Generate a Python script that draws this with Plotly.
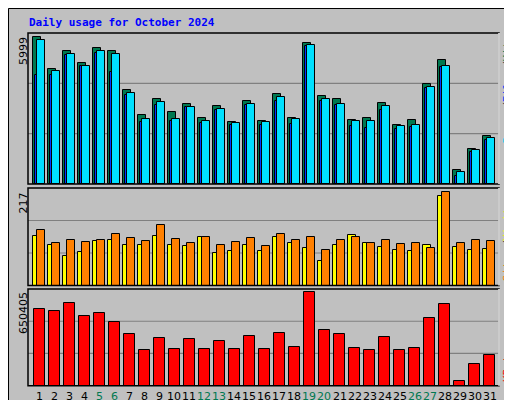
import plotly.graph_objects as go

days = list(range(1, 32))
hits = [5999, 4690, 5428, 4936, 5549, 5428, 3832, 2809, 3476, 2932, 3259, 2687, 3177, 2524, 3381, 2564,
        3668, 2687, 5753, 3586, 3463, 2605, 2687, 3300, 2400, 2605, 4077, 5057, 560, 1418, 1950]
files = [5870, 4630, 5310, 4820, 5430, 5310, 3710, 2640, 3350, 2640, 3140, 2560, 3050, 2480, 3260, 2520,
         3540, 2640, 5700, 3460, 3260, 2560, 2560, 3180, 2360, 2400, 3950, 4810, 500, 1390, 1900]
pages = [4470, 4470, 5290, 4810, 5360, 4580, 3650, 2520, 3220, 2560, 3150, 2490, 3010, 2430, 3220, 2400,
         3380, 2460, 5630, 3410, 3220, 2360, 2290, 3030, 2260, 2330, 3930, 4770, 310, 1300, 1790]
visits = [115, 94, 69, 77, 103, 106, 94, 94, 115, 94, 92, 113, 75, 80, 94, 80,
          113, 99, 87, 58, 94, 118, 99, 89, 82, 80, 94, 208, 89, 82, 84]
sites = [129, 99, 106, 101, 106, 120, 110, 103, 141, 108, 99, 113, 94, 101, 110, 92,
         120, 106, 113, 82, 106, 113, 99, 106, 96, 99, 87, 217, 99, 106, 103]
kbytes = [536000, 521800, 578900, 486000, 507500, 443100, 357400, 250200, 328800, 257300, 321600, 257300,
          314500, 257300, 343100, 257300, 364500, 271600, 650405, 386000, 357400, 264500, 250200, 335900,
          250200, 264500, 471700, 571800, 35700, 150100, 214400]
weekend = [5, 6, 12, 13, 19, 20, 26, 27]

W, H = 512, 400
def px(x):
    return x / W
def py(y):
    return 1 - y / H

line = dict(color="black", width=1)
fig = go.Figure()
fig.add_bar(x=days, y=hits, offset=-0.42, width=0.53, marker=dict(color="#007850", line=line), xaxis="x", yaxis="y")
fig.add_bar(x=days, y=pages, offset=-0.29, width=0.53, marker=dict(color="#0038FF", line=line), xaxis="x", yaxis="y")
fig.add_bar(x=days, y=files, offset=-0.15, width=0.5, marker=dict(color="#00E0FF", line=line), xaxis="x", yaxis="y")
fig.add_bar(x=days, y=visits, offset=-0.42, width=0.53, marker=dict(color="#FFFF00", line=line), xaxis="x2", yaxis="y2")
fig.add_bar(x=days, y=sites, offset=-0.15, width=0.5, marker=dict(color="#FF8000", line=line), xaxis="x2", yaxis="y2")
fig.add_bar(x=days, y=kbytes, offset=-0.35, width=0.71, marker=dict(color="#FF0000", line=line), xaxis="x3", yaxis="y3")

xr = [0.247, 31.626]
xd = [px(20), px(491)]
common_y = dict(showticklabels=False, showgrid=False, zeroline=False, ticks="")
common_x = dict(range=xr, domain=xd, showgrid=False, zeroline=False, showticklabels=False)
fig.update_layout(
    width=W, height=H, margin=dict(l=0, r=0, t=0, b=0),
    paper_bgcolor="#C0C0C0", plot_bgcolor="#C0C0C0",
    showlegend=False, barmode="overlay", bargap=0,
    font=dict(family="DejaVu Sans", size=11, color="black"),
    xaxis=dict(common_x, anchor="y"),
    xaxis2=dict(common_x, anchor="y2"),
    xaxis3=dict(common_x, anchor="y3"),
    yaxis=dict(common_y, domain=[py(176), py(25)], range=[0, 6175]),
    yaxis2=dict(common_y, domain=[py(277.5), py(180)], range=[0, 227]),
    yaxis3=dict(common_y, domain=[py(377.7), py(281)], range=[0, 673000]),
)

shapes = []
shapes.append(dict(type="rect", xref="paper", yref="paper", x0=px(4), x1=1, y0=0, y1=py(4),
                   fillcolor="#808080", line=dict(width=0), layer="below"))
shapes.append(dict(type="rect", xref="paper", yref="paper", x0=px(0.5), x1=px(507), y0=py(395), y1=py(0.5),
                   fillcolor="#C0C0C0", line=dict(color="black", width=1), layer="below"))
for ax in ["y", "y2", "y3"]:
    xa = "x" if ax == "y" else "x" + ax[1]
    for f in [1 / 3, 2 / 3]:
        shapes.append(dict(type="line", xref=f"{xa} domain", yref=f"{ax} domain", x0=0, x1=1, y0=f, y1=f,
                           line=dict(color="#808080", width=1.2), layer="below"))
    shapes.append(dict(type="rect", xref=f"{xa} domain", yref=f"{ax} domain", x0=0, x1=1, y0=0, y1=1,
                       line=dict(color="black", width=1.5), layer="above"))
    shapes.append(dict(type="line", xref=f"{xa} domain", yref=f"{ax} domain", x0=1, x1=1, y0=0, y1=1,
                       line=dict(color="white", width=1.5), layer="above"))
fig.update_layout(shapes=shapes)

mono = "DejaVu Sans Mono"
ann = [
    dict(x=px(19), y=py(15), text="<b>Daily usage for October 2024</b>", xanchor="left", yanchor="middle",
         font=dict(family=mono, size=11, color="#0000FF")),
    dict(x=px(15), y=py(27), text="5999", textangle=-90, xanchor="center", yanchor="top", font=dict(size=11)),
    dict(x=px(15), y=py(183), text="217", textangle=-90, xanchor="center", yanchor="top", font=dict(size=11)),
    dict(x=px(15), y=py(282), text="650405", textangle=-90, xanchor="center", yanchor="top", font=dict(size=11)),
]
# right-hand series labels, each part as its own rotated text, listed bottom to top
right = [
    (138, "Pages", "#00C8E8"), (103, "/", "#404040"), (97, "Files", "#0038FF"),
    (62, "/", "#404040"), (56, "Hits", "#007850"),
    (276, "Sites", "#FF8000"), (241, "/", "#404040"), (235, "Visits", "#FFFF00"),
    (376, "KBytes", "#FF0000"),
]
for y, t, c in right:
    ann.append(dict(x=px(499), y=py(y), text=t, textangle=-90, xanchor="center", yanchor="bottom",
                    font=dict(family=mono, size=11, color=c)))
for d in days:
    ann.append(dict(x=d, y=py(388), xref="x3", text=str(d), xanchor="center", yanchor="middle",
                    font=dict(size=11, color="#007850" if d in weekend else "black")))
for a in ann:
    a.setdefault("xref", "paper")
    a.update(yref="paper", showarrow=False)
fig.update_layout(annotations=ann)

fig.write_html("out.html")
